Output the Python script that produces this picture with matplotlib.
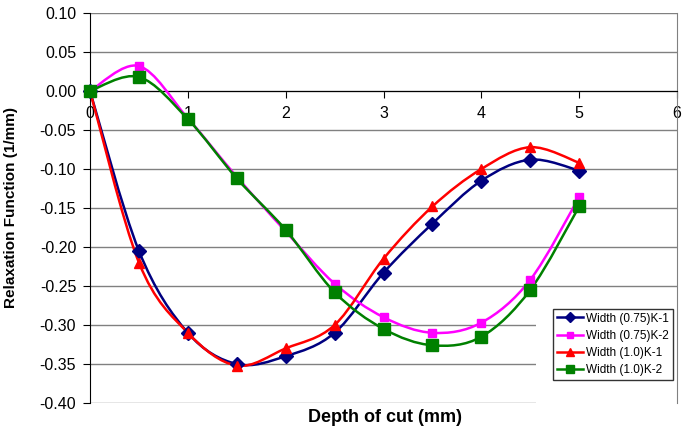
import numpy as np
from matplotlib import pyplot as plt
from matplotlib.path import Path
from matplotlib.patches import PathPatch, Rectangle
from matplotlib.lines import Line2D

plt.rcParams['font.family'] = ['Liberation Sans', 'DejaVu Sans']

depth = [0, 0.5, 1, 1.5, 2, 2.5, 3, 3.5, 4, 4.5, 5]
w075_k1 = [0.0, -0.205, -0.310, -0.350, -0.340, -0.310, -0.233, -0.170, -0.115, -0.088, -0.102]
w075_k2 = [0.0, 0.032, -0.035, -0.110, -0.180, -0.247, -0.290, -0.310, -0.297, -0.242, -0.136]
w10_k1 = [0.0, -0.220, -0.310, -0.352, -0.330, -0.300, -0.215, -0.148, -0.100, -0.072, -0.092]
w10_k2 = [0.0, 0.018, -0.036, -0.112, -0.178, -0.258, -0.305, -0.326, -0.315, -0.255, -0.148]
yticks = [-0.40, -0.35, -0.30, -0.25, -0.20, -0.15, -0.10, -0.05, 0.00, 0.05, 0.10]

series = [
    ('Width (0.75)K-1', w075_k1, '#000080', 'D', 7),
    ('Width (0.75)K-2', w075_k2, '#FF00FF', 's', 6),
    ('Width (1.0)K-1', w10_k1, '#FF0000', '^', 7),
    ('Width (1.0)K-2', w10_k2, '#008000', 's', 8),
]


def smooth_path(x, y):
    # excel-like smoothed line: bezier segments through the points
    p = np.column_stack([x, y])
    n = len(p)
    verts = [p[0]]
    codes = [Path.MOVETO]
    for i in range(n - 1):
        p0 = p[max(i - 1, 0)]
        p1 = p[i]
        p2 = p[i + 1]
        p3 = p[min(i + 2, n - 1)]
        c1 = p1 + (p2 - p0) / 6
        c2 = p2 - (p3 - p1) / 6
        verts += [c1, c2, p2]
        codes += [Path.CURVE4] * 3
    return Path(verts, codes)


fig = plt.figure(figsize=(6.84, 4.28), dpi=100)
ax = fig.add_axes([0.1316, 0.0584, 0.8582, 0.9112])

ax.set_xlim(0, 6)
ax.set_ylim(-0.40, 0.10)
ax.set_yticks(yticks)
ax.set_yticklabels([f'{v:.2f}' for v in yticks])
ax.set_xticks(range(7))
ax.grid(axis='y', color='#808080', linewidth=1)
ax.set_axisbelow(True)

ax.spines['top'].set_visible(False)
ax.spines['right'].set_color('#808080')
ax.spines['bottom'].set_position(('data', 0))
ax.spines['left'].set_color('black')
ax.tick_params(axis='both', labelsize=11.5, direction='out', length=5, color='black')
ax.tick_params(axis='x', pad=6)
ax.tick_params(axis='y', pad=5)

# white area behind legend
ax.add_patch(Rectangle((0.76, -0.01), 0.24, 0.27, transform=ax.transAxes,
                       facecolor='white', edgecolor='none', zorder=1.5, clip_on=False))

handles = []
for name, vals, col, mk, ms in series:
    ax.add_patch(PathPatch(smooth_path(depth, vals), facecolor='none', edgecolor=col,
                           linewidth=1.8, zorder=3))
    ax.plot(depth, vals, linestyle='none', marker=mk, color=col, markersize=ms, zorder=4,
            clip_on=False)
    handles.append(Line2D([], [], color=col, marker=mk, markersize=ms * 0.75, linewidth=1.8, label=name))

leg = ax.legend(handles=handles, loc='lower right', bbox_to_anchor=(0.993, 0.059),
                fontsize=8.5, frameon=True, fancybox=False, edgecolor='black',
                handlelength=2.2, handletextpad=0.3, borderpad=0.3, labelspacing=0.45,
                borderaxespad=0)
leg.get_frame().set_linewidth(1)
leg.set_zorder(5)

fig.text(0.016, 0.515, 'Relaxation Function (1/mm)', rotation=90, ha='center', va='center',
         fontsize=11, fontweight='bold')
fig.text(0.563, 0.004, 'Depth of cut (mm)', ha='center', va='bottom', fontsize=13, fontweight='bold')

fig.savefig('out.png', dpi=100)
